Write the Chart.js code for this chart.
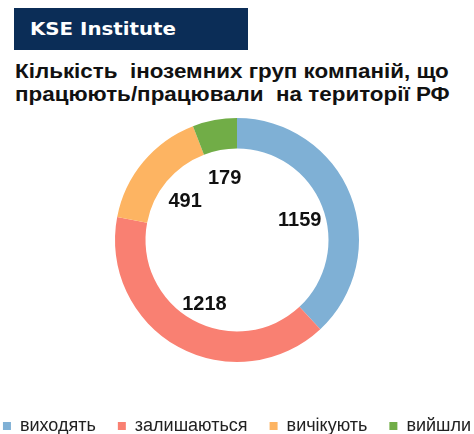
<!DOCTYPE html>
<html>
<head>
<meta charset="utf-8">
<script src="https://cdn.jsdelivr.net/npm/chart.js@4"></script>
<style>
  html, body { margin: 0; padding: 0; width: 474px; height: 434px; overflow: hidden; background: #fff; }
  body { position: relative; }
  #brand {
    position: absolute; left: 14px; top: 8px; width: 234px; height: 42px;
    background: #0b2d57;
  }
  #brand span {
    position: absolute; left: 16px; top: 0;
    color: #fff; font: bold 18px "DejaVu Sans", sans-serif; line-height: 42px;
    transform: scaleX(1.1); transform-origin: left center; white-space: pre;
  }
  #title {
    position: absolute; left: 15px; top: 60px;
    font: bold 20px "Liberation Sans", Arial, sans-serif;
    line-height: 23px; color: #111; white-space: pre;
    transform: scaleX(1.12); transform-origin: left top;
  }
  #wrap { position: absolute; left: -30px; top: 0; width: 534px; height: 445px; }
</style>
</head>
<body>
<div id="brand"><span>KSE Institute</span></div>
<div id="title">Кількість  іноземних груп компаній, що
працюють/працювали  на території РФ</div>
<div id="wrap"><canvas id="chart"></canvas></div>
<script>
const labels = ["виходять", "залишаються", "вичікують", "вийшли"];
const values = [1159, 1218, 491, 179];
const colors = ["#7fb0d5", "#f98072", "#fdb462", "#71ad47"];

/* =========================
   VALUE LABELS INSIDE THE HOLE
========================= */

const insideLabels = {
    id: "insideLabels",
    afterDatasetsDraw(chart) {
        const ctx = chart.ctx;
        const meta = chart.getDatasetMeta(0);
        ctx.save();
        ctx.font = "bold 20px 'Liberation Sans', Arial, sans-serif";
        ctx.fillStyle = "#111";
        ctx.textAlign = "center";
        ctx.textBaseline = "middle";
        meta.data.forEach((arc, i) => {
            const p = arc.getProps(["x", "y", "startAngle", "endAngle", "innerRadius"], true);
            const mid = (p.startAngle + p.endAngle) / 2;
            const r = p.innerRadius - 24;
            // slight downward nudge, like the original labels
            ctx.fillText(String(values[i]), p.x + Math.cos(mid) * r, p.y + Math.sin(mid) * r + 5);
        });
        ctx.restore();
    }
};

new Chart(document.getElementById("chart"), {
    type: "doughnut",
    data: {
        labels: labels,
        datasets: [{
            data: values,
            backgroundColor: colors,
            borderWidth: 0
        }]
    },
    options: {
        responsive: true,
        maintainAspectRatio: false,
        animation: false,
        radius: 122,
        cutout: "75%",
        layout: { padding: { top: 85 } },
        plugins: {
            legend: {
                position: "bottom",
                labels: {
                    boxWidth: 8,
                    boxHeight: 8,
                    padding: 22,
                    color: "#222",
                    font: { family: "'Liberation Sans', Arial, sans-serif", size: 18 }
                }
            },
            tooltip: { enabled: false }
        }
    },
    plugins: [insideLabels]
});
</script>
</body>
</html>
